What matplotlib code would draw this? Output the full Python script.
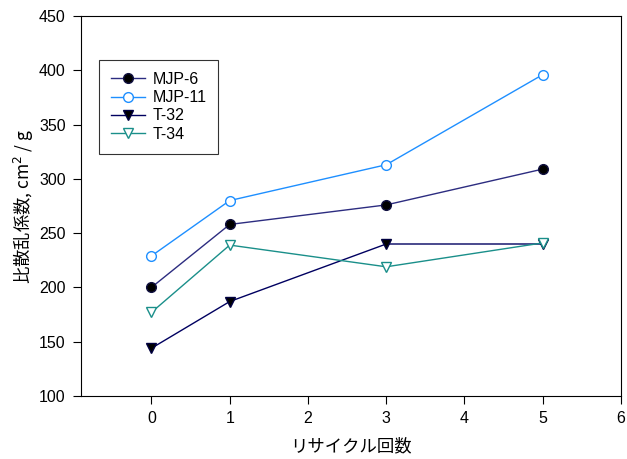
import matplotlib
matplotlib.use("Agg")
import matplotlib.pyplot as plt

plt.rcParams['font.family'] = ['Liberation Sans', 'Noto Sans CJK JP', 'DejaVu Sans']

x = [0, 1, 3, 5]
mjp6 = [200, 258, 276, 309]
mjp11 = [229, 280, 313, 396]
t32 = [144, 187, 240, 240]
t34 = [177, 239, 219, 241]
xticks = [0, 1, 2, 3, 4, 5, 6]
yticks = [100, 150, 200, 250, 300, 350, 400, 450]

fig = plt.figure(figsize=(6.27, 4.59), dpi=100)
ax = fig.add_axes([81/627, 1-396/459, (621-81)/627, (396-16)/459])

ax.plot(x, mjp6, color='#2c2c80', lw=1, marker='o', ms=7, mfc='black', mec='#101040', label='MJP-6')
ax.plot(x, mjp11, color='#1e8fff', lw=1, marker='o', ms=7, mfc='white', mec='#1e8fff', label='MJP-11')
ax.plot(x, t32, color='#000060', lw=1, marker='v', ms=7, mfc='black', mec='#000040', label='T-32')
ax.plot(x, t34, color='#1a8f8a', lw=1, marker='v', ms=7, mfc='white', mec='#1a8f8a', label='T-34')

ax.set_xlim(-0.9, 6)
ax.set_ylim(100, 450)
ax.set_xticks(xticks)
ax.set_yticks(yticks)
ax.tick_params(direction='out', labelsize=11.5, length=6, pad=5, top=False, right=False)
for s in ax.spines.values():
    s.set_linewidth(0.8)

ax.set_xlabel('リサイクル回数', fontsize=12.5, family=['Noto Sans CJK JP', 'DejaVu Sans'], labelpad=8)
ax.set_ylabel('比散乱係数, cm$^2$ / g', fontsize=12.5, family=['Noto Sans CJK JP', 'DejaVu Sans'], labelpad=2)

leg = ax.legend(loc='upper left', bbox_to_anchor=((99-81)/540, (396-60)/380), frameon=True,
                fancybox=False, edgecolor='black', fontsize=11.5, handlelength=2.1,
                borderpad=0.75, labelspacing=0.2, handletextpad=0.5, borderaxespad=0)
leg.get_frame().set_linewidth(0.8)

fig.savefig('out.png', dpi=100)
